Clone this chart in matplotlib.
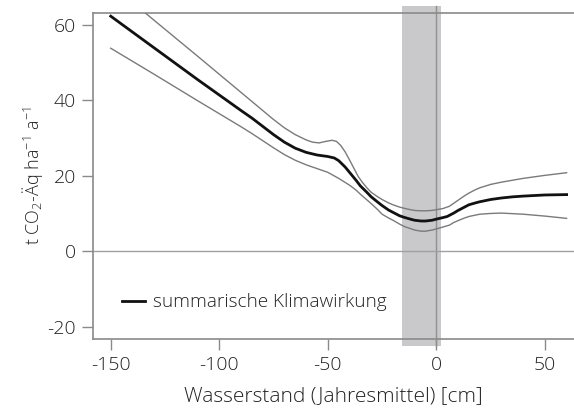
import matplotlib
matplotlib.use('Agg')
import matplotlib.pyplot as plt
from matplotlib.patches import Rectangle

# Daten
x_mean = [-150, -130, -110, -90, -85, -80, -75, -70, -65, -60, -55, -50, -47, -45, -42, -40,
          -37, -35, -32, -30, -27, -25, -22, -20, -17, -15, -12, -10, -7, -5, -2, 0, 3, 5, 6,
          8, 10, 13, 15, 18, 20, 25, 30, 35, 40, 50, 60]
y_mean = [62.3, 53.9, 45.5, 37.3, 35.3, 33.1, 30.9, 28.9, 27.3, 26.2, 25.5, 25.1, 24.7, 24.0, 22.3, 20.9,
          18.8, 17.3, 15.6, 14.4, 13.0, 12.1, 10.9, 10.3, 9.4, 9.0, 8.5, 8.2, 8.0, 8.0, 8.2, 8.5, 8.9, 9.2, 9.5,
          10.1, 10.8, 11.7, 12.3, 12.8, 13.1, 13.7, 14.1, 14.4, 14.6, 14.9, 15.0]

x_upper = [-150, -130, -110, -90, -85, -80, -75, -70, -65, -60, -57, -54, -51, -48, -46, -44, -42,
           -40, -38, -36, -34, -32, -30, -27, -25, -22, -20, -17, -15, -12, -10, -7, -5, -2, 0, 3,
           6, 8, 10, 13, 15, 18, 20, 25, 30, 40, 50, 60]
y_upper = [70.8, 61.2, 51.7, 42.1, 39.7, 37.3, 34.9, 32.7, 30.9, 29.5, 28.9, 28.7, 29.1, 29.4, 29.1, 28.0, 26.3,
           24.2, 22.0, 19.8, 18.2, 16.8, 15.6, 14.4, 13.7, 12.8, 12.3, 11.7, 11.4, 11.0, 10.8, 10.7, 10.7, 10.8, 11.0, 11.3,
           11.9, 12.7, 13.5, 14.7, 15.4, 16.3, 16.8, 17.7, 18.3, 19.3, 20.1, 20.8]

x_lower = [-150, -130, -110, -90, -85, -80, -75, -70, -65, -60, -55, -50, -45, -40, -37, -35, -32,
           -30, -27, -25, -22, -20, -17, -15, -12, -10, -7, -5, -2, 0, 3, 6, 8, 10, 13, 15, 20,
           25, 30, 40, 50, 60]
y_lower = [53.8, 46.9, 39.9, 33.0, 31.2, 29.3, 27.4, 25.6, 24.1, 22.9, 21.9, 20.9, 19.3, 17.5, 16.2, 15.1, 13.6,
           12.6, 11.0, 9.8, 8.8, 8.2, 7.2, 6.6, 6.0, 5.6, 5.3, 5.3, 5.6, 5.9, 6.4, 6.9, 7.6, 8.1, 8.8, 9.2, 9.8,
           10.0, 10.1, 9.8, 9.3, 8.7]

band_left, band_right = -16, 2  # grauer Bereich
x_ticks = [-150, -100, -50, 0, 50]
y_ticks = [-20, 0, 20, 40, 60]

plt.rcParams['font.family'] = ['Open Sans', 'DejaVu Sans']
plt.rcParams['font.weight'] = 'light'
plt.rcParams['axes.labelweight'] = 'light'
plt.rcParams['mathtext.fontset'] = 'custom'
plt.rcParams['mathtext.rm'] = 'Open Sans:light'
plt.rcParams['mathtext.default'] = 'regular'
plt.rcParams['axes.unicode_minus'] = False

text_col = '#222222'
axis_col = '#8a8a8a'

fig = plt.figure(figsize=(5.74, 4.12), dpi=100)
ax = fig.add_axes([0.1615, 0.177, 0.8385, 0.792])

ax.set_xlim(-158.3, 63.4)
ax.set_ylim(-23.3, 63.2)

# grauer Streifen, ragt etwas über die Achsen hinaus
ext = 1.9
band = Rectangle((band_left, -23.3 - ext), band_right - band_left, 63.2 + 23.3 + 2 * ext,
                 facecolor='#c9c9cc', edgecolor='none', clip_on=False, zorder=1)
ax.add_patch(band)
ax.plot([0, 0], [-23.3 - ext, 63.2 + ext], color='#909090', lw=1.0, clip_on=False, zorder=2)

ax.axhline(0, color='#a0a0a0', lw=1.0, zorder=2)

ax.plot(x_upper, y_upper, color='#7a7a7a', lw=1.0, zorder=3, solid_joinstyle='round')
ax.plot(x_lower, y_lower, color='#7a7a7a', lw=1.0, zorder=3, solid_joinstyle='round')
ax.plot(x_mean, y_mean, color='#111111', lw=2.0, zorder=4, solid_joinstyle='round',
        label='summarische Klimawirkung')

for s in ['left', 'top', 'bottom']:
    ax.spines[s].set_color(axis_col)
    ax.spines[s].set_linewidth(1.2)
ax.spines['right'].set_visible(False)

ax.set_xticks(x_ticks)
ax.set_yticks(y_ticks)
ax.tick_params(direction='out', length=8, width=1.0, color=axis_col,
               labelsize=14, labelcolor=text_col, pad=4)

ax.set_xlabel('Wasserstand (Jahresmittel) [cm]', fontsize=15, color=text_col, labelpad=9)
ax.set_ylabel('t CO$_2$-Äq ha$^{-1}$ a$^{-1}$', fontsize=13, color=text_col, labelpad=2)

leg = ax.legend(loc='center left', bbox_to_anchor=(0.061, 0.113), frameon=False,
                fontsize=13.7, handlelength=1.2, handletextpad=0.45,
                borderpad=0, borderaxespad=0)
for t in leg.get_texts():
    t.set_color(text_col)

fig.savefig('out.png', dpi=100)
